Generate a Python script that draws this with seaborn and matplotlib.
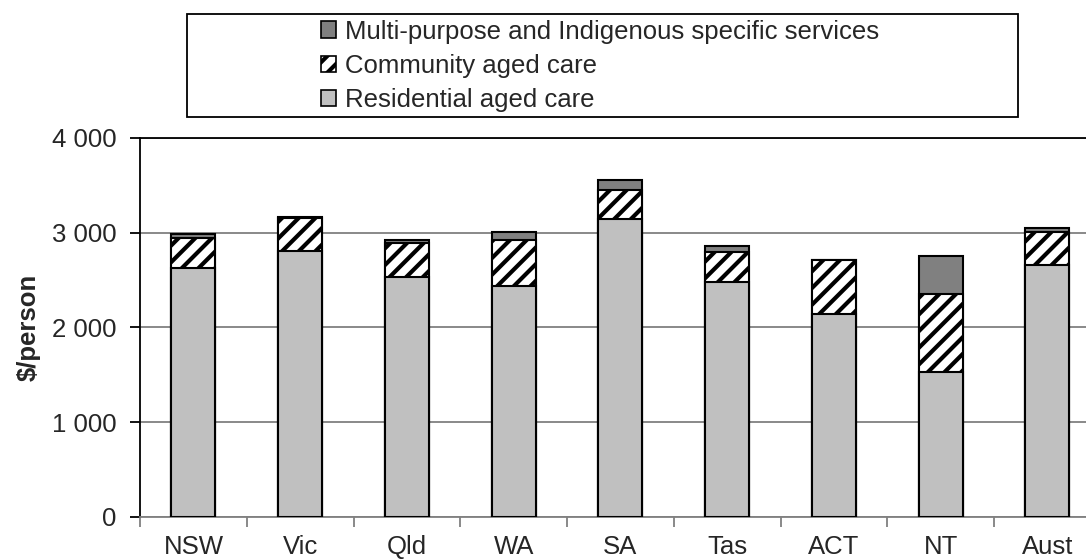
import matplotlib
matplotlib.use("Agg")
import matplotlib.pyplot as plt
import seaborn as sns
import numpy as np
from matplotlib.patches import Rectangle, Patch
from matplotlib.ticker import FuncFormatter, FixedLocator

states = ["NSW", "Vic", "Qld", "WA", "SA", "Tas", "ACT", "NT", "Aust"]
residential = [2623, 2809, 2534, 2433, 3147, 2478, 2137, 1528, 2661]
community = [323, 348, 353, 489, 303, 314, 574, 827, 342]
multi = [42, 5, 38, 88, 106, 67, 0, 398, 42]

series_names = ["Multi-purpose and Indigenous specific services",
                "Community aged care",
                "Residential aged care"]
y_ticks = [0, 1000, 2000, 3000, 4000]

sns.set_style("white")
plt.rcParams['font.family'] = ['Liberation Sans', 'DejaVu Sans']
plt.rcParams['hatch.linewidth'] = 3.0
plt.rcParams['hatch.color'] = 'black'

FS = 18.5
fig = plt.figure(figsize=(10.86, 5.59), dpi=100)
ax = fig.add_axes([140/1086, 1 - 516.7/559, 960.75/1086, (516.7 - 137.9)/559])

res = np.array(residential, float)
com = np.array(community, float)
mul = np.array(multi, float)

c_multi = "#808080"
c_res = "#C0C0C0"

sns.barplot(x=states, y=res + com + mul, color=c_multi, saturation=1, width=0.41,
            edgecolor="black", linewidth=1.5, ax=ax, zorder=3)
sns.barplot(x=states, y=res + com, color="white", saturation=1, width=0.41,
            edgecolor="black", linewidth=1.5, hatch="//", ax=ax, zorder=3)
sns.barplot(x=states, y=res, color=c_res, saturation=1, width=0.41,
            edgecolor="black", linewidth=1.5, ax=ax, zorder=3)

ax.set_xlim(-0.5, len(states) - 0.5)
ax.set_ylim(0, 4000)
ax.set_yticks(y_ticks)
ax.yaxis.set_major_formatter(FuncFormatter(lambda v, p: f"{int(v):,}".replace(",", " ")))
ax.yaxis.grid(True, color="#808080", linewidth=1.3, zorder=0)
ax.set_axisbelow(True)
ax.tick_params(axis="y", which="major", left=True, length=7, width=1.3, color="black",
               labelsize=FS, pad=10)

# x: ticks at category boundaries, labels at centers
ax.xaxis.set_major_locator(FixedLocator(np.arange(-0.5, len(states), 1.0)))
ax.set_xticklabels([])
ax.xaxis.set_minor_locator(FixedLocator(np.arange(len(states))))
ax.set_xticklabels(states, minor=True)
ax.tick_params(axis="x", which="major", bottom=True, length=7, width=1.3, color="#808080")
ax.tick_params(axis="x", which="minor", bottom=True, length=0, labelsize=FS, pad=13)

for s in ["left", "top", "right"]:
    ax.spines[s].set_color("black")
    ax.spines[s].set_linewidth(1.3)
ax.spines["bottom"].set_color("#808080")
ax.spines["bottom"].set_linewidth(1.3)

ax.set_xlabel("")
ax.set_ylabel("$/person", fontsize=FS, fontweight="bold", labelpad=8)

# legend frame
fig.patches.append(Rectangle((187/1086, 1 - 117/559), (1018 - 187)/1086, (117 - 14.5)/559,
                             transform=fig.transFigure, fill=False, edgecolor="black",
                             linewidth=1.3, zorder=5))
handles = [Patch(facecolor=c_multi, edgecolor="black", linewidth=1.2),
           Patch(facecolor="white", edgecolor="black", linewidth=1.2, hatch="//"),
           Patch(facecolor=c_res, edgecolor="black", linewidth=1.2)]
fig.legend(handles, series_names, loc="upper left", bbox_to_anchor=(318/1086, 1 - 17/559),
           frameon=False, fontsize=FS, handlelength=0.6, handleheight=0.6,
           handletextpad=0.35, labelspacing=0.4, borderpad=0.1, borderaxespad=0)

fig.savefig("out.png", dpi=100)
